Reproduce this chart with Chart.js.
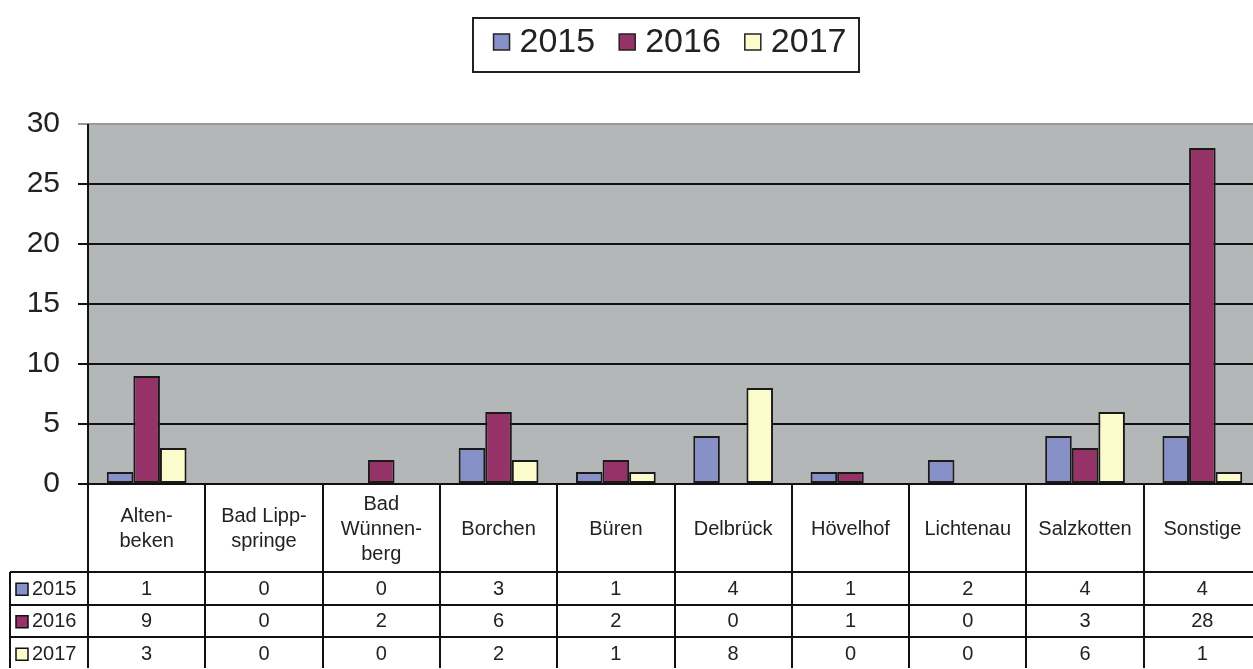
<!DOCTYPE html>
<html>
<head>
<meta charset="utf-8">
<script src="https://cdn.jsdelivr.net/npm/chart.js@4/dist/chart.umd.min.js"></script>
<style>
  body { margin: 0; background: #fff; overflow: hidden; }
  #wrap { width: 1264px; height: 669px; }
</style>
</head>
<body>
<div id="wrap"><canvas id="chart"></canvas></div>
<script>
// header labels of the table (one entry per line)
const categories = [
    ['Alten-', 'beken'],
    ['Bad Lipp-', 'springe'],
    ['Bad', 'Wünnen-', 'berg'],
    ['Borchen'],
    ['Büren'],
    ['Delbrück'],
    ['Hövelhof'],
    ['Lichtenau'],
    ['Salzkotten'],
    ['Sonstige']
];
const years = ['2015', '2016', '2017'];
const values2015 = [1, 0, 0, 3, 1, 4, 1, 2, 4, 4];
const values2016 = [9, 0, 2, 6, 2, 0, 1, 0, 3, 28];
const values2017 = [3, 0, 0, 2, 1, 8, 0, 0, 6, 1];
const yMax = 30;
const yStep = 5;

const colors = ['#8890c8', '#953368', '#fbfbcc'];
const seriesValues = [values2015, values2016, values2017];
const font = '"Liberation Sans", Arial, sans-serif';

// draws the gray plot area, the data table under the axis and the boxed legend
const tablePlugin = {
    id: 'tablePlugin',
    beforeDraw(chart) {
        const ctx = chart.ctx;
        const a = chart.chartArea;
        ctx.save();
        ctx.fillStyle = '#fff';
        ctx.fillRect(0, 0, chart.width, chart.height);
        ctx.fillStyle = '#b4b7b8';
        ctx.fillRect(a.left, a.top, a.right - a.left, a.bottom - a.top);
        ctx.restore();
    },
    afterDraw(chart) {
        const ctx = chart.ctx;
        const a = chart.chartArea;
        const x = chart.scales.x;
        const n = categories.length;
        const colW = (a.right - a.left) / n;
        const headTop = a.bottom;
        const headBottom = a.bottom + 88;
        const rowH = 32.5;
        const tableLeft = 10;
        const tableBottom = chart.height - 1;

        ctx.save();
        ctx.strokeStyle = '#111';
        ctx.lineWidth = 2;

        // vertical lines
        for (let i = 0; i <= n; i++) {
            const lx = Math.round(a.left + i * colW);
            ctx.beginPath();
            ctx.moveTo(lx, i === 0 ? a.top : headTop);
            ctx.lineTo(lx, tableBottom);
            ctx.stroke();
        }
        ctx.beginPath();
        ctx.moveTo(tableLeft, headBottom);
        ctx.lineTo(tableLeft, tableBottom);
        ctx.stroke();

        // horizontal lines
        for (let r = 0; r <= years.length; r++) {
            const ly = Math.round(headBottom + r * rowH);
            ctx.beginPath();
            ctx.moveTo(tableLeft, ly);
            ctx.lineTo(a.right, ly);
            ctx.stroke();
        }

        // header text
        ctx.fillStyle = '#222';
        ctx.font = '20px ' + font;
        ctx.textAlign = 'center';
        ctx.textBaseline = 'middle';
        const lineH = 25;
        categories.forEach((lines, i) => {
            const cx = x.getPixelForValue(i);
            const midY = (headTop + headBottom) / 2 + 1;
            const startY = midY - (lines.length - 1) * lineH / 2;
            lines.forEach((t, j) => ctx.fillText(t, cx, startY + j * lineH));
        });

        // value rows
        years.forEach((yr, r) => {
            const cy = headBottom + r * rowH + rowH / 2 + 1;
            seriesValues[r].forEach((v, i) => {
                ctx.fillText(String(v), x.getPixelForValue(i), cy);
            });
            // row label with colour key
            ctx.fillStyle = colors[r];
            ctx.fillRect(16, cy - 6, 12, 12);
            ctx.lineWidth = 1.5;
            ctx.strokeRect(16, cy - 6, 12, 12);
            ctx.fillStyle = '#222';
            ctx.textAlign = 'left';
            ctx.fillText(yr, 32, cy);
            ctx.textAlign = 'center';
            ctx.lineWidth = 2;
        });

        // legend box
        ctx.font = '34px ' + font;
        ctx.textAlign = 'left';
        const sq = 16, gap = 10, spacing = 24;
        let total = 0;
        years.forEach((yr, i) => {
            total += sq + gap + ctx.measureText(yr).width + (i < years.length - 1 ? spacing : 0);
        });
        const legendCenter = 666;
        let lx = legendCenter - total / 2 + 4;
        const ly = 42;
        ctx.strokeStyle = '#222';
        ctx.lineWidth = 2;
        ctx.strokeRect(473, 18, 386, 54);
        years.forEach((yr, i) => {
            ctx.fillStyle = colors[i];
            ctx.fillRect(lx, ly - sq / 2, sq, sq);
            ctx.lineWidth = 1.5;
            ctx.strokeRect(lx, ly - sq / 2, sq, sq);
            ctx.fillStyle = '#222';
            ctx.fillText(yr, lx + sq + gap, ly + 1);
            lx += sq + gap + ctx.measureText(yr).width + spacing;
        });
        ctx.restore();
    }
};

new Chart(document.getElementById('chart'), {
    type: 'bar',
    data: {
        labels: categories.map(c => c.join('')),
        datasets: years.map((yr, i) => ({
            label: yr,
            data: seriesValues[i].map(v => (v === 0 ? null : v)),
            backgroundColor: colors[i],
            borderColor: '#1a1a1a',
            borderWidth: 2,
            borderSkipped: false,
            categoryPercentage: 0.68,
            barPercentage: 1.0
        }))
    },
    options: {
        responsive: true,
        maintainAspectRatio: false,
        animation: false,
        layout: { padding: { top: 124, bottom: 185, left: 0, right: 3 } },
        plugins: {
            legend: { display: false },
            tooltip: { enabled: false }
        },
        scales: {
            x: { display: false },
            y: {
                min: 0,
                max: yMax,
                afterFit(scale) { scale.width = 88; },
                ticks: {
                    stepSize: yStep,
                    color: '#222',
                    padding: 18,
                    font: { family: font, size: 30 }
                },
                border: { display: false },
                grid: {
                    lineWidth: 2,
                    tickLength: 10,
                    color: ctx => (ctx.tick && ctx.tick.value === yMax ? '#999' : '#111')
                }
            }
        }
    },
    plugins: [tablePlugin]
});
</script>
</body>
</html>
